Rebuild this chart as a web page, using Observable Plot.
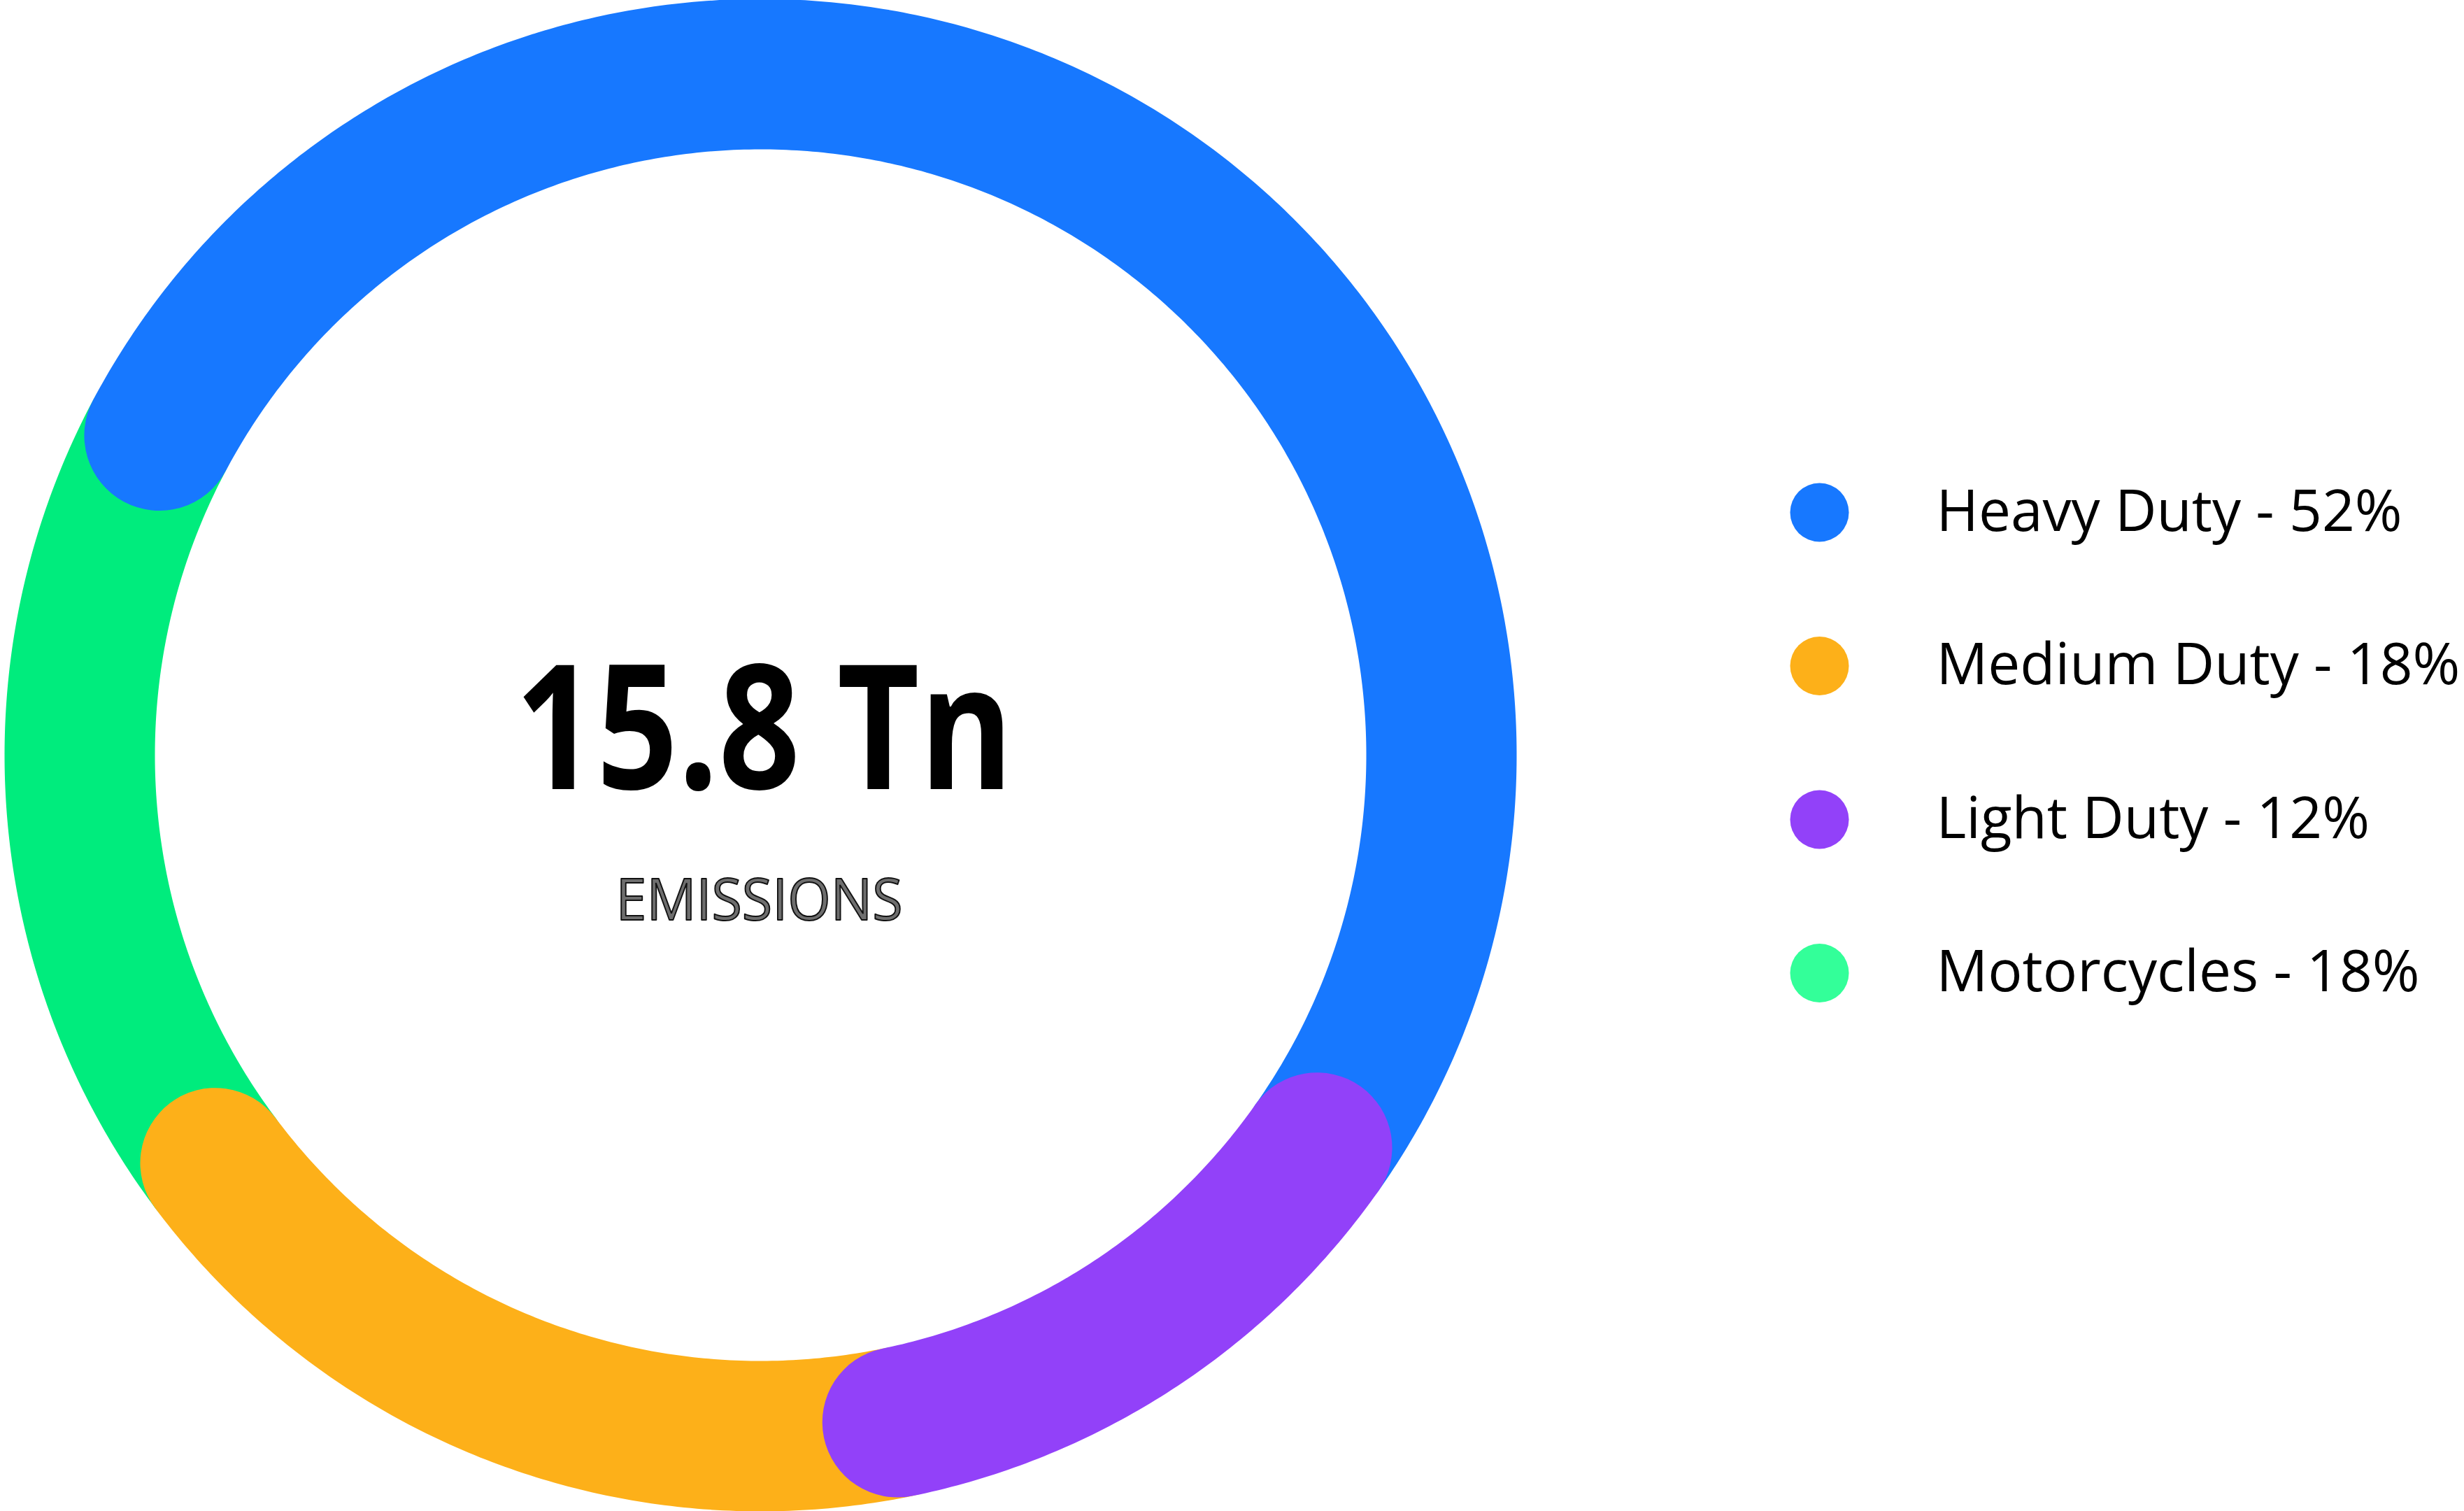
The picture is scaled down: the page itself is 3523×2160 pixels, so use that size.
<!DOCTYPE html>
<html>
<head>
<meta charset="utf-8">
<script src="https://cdn.jsdelivr.net/npm/d3@7"></script>
<script src="https://cdn.jsdelivr.net/npm/@observablehq/plot@0.6"></script>
<style>
  html, body { margin: 0; padding: 0; background: #fff; }
  #chart svg { display: block; }
</style>
</head>
<body>
<div id="chart"></div>
<script>
// ---- data ----
const categories = ["Heavy Duty", "Medium Duty", "Light Duty", "Motorcycles"];
const shares = [52, 18, 12, 18];
const ringColors = ["#1778FF", "#FDB019", "#9241F9", "#00EC7D"];
const legendColors = ["#1778FF", "#FDB019", "#9241F9", "#33FF99"];
const ringOrder = ["Heavy Duty", "Light Duty", "Medium Duty", "Motorcycles"];   // clockwise
const drawOrder = ["Motorcycles", "Medium Duty", "Heavy Duty", "Light Duty"];   // bottom to top
const totalLabel = "15.8 Tn";
const subLabel = "EMISSIONS";

// ---- layout ----
const W = 3523, H = 2160;
const CX = 1087, CY = 1079, R = 973.5, BAND = 215, START = -62;
const LEG_DOT_X = 2601, LEG_TEXT_X = 2768, LEG_Y0 = 732, LEG_STEP = 219.5;

let acc = START;
const segs = ringOrder.map(name => {
  const i = categories.indexOf(name);
  const a0 = acc, a1 = acc + shares[i] / 100 * 360;
  acc = a1;
  return {name, a0, a1, color: ringColors[i]};
});
function arcPoints(s) {
  const pts = [];
  const n = Math.ceil((s.a1 - s.a0) / 0.5);
  for (let k = 0; k <= n; k++) {
    const a = (s.a0 + (s.a1 - s.a0) * k / n) * Math.PI / 180;
    pts.push({x: CX + R * Math.sin(a), y: CY - R * Math.cos(a)});
  }
  return pts;
}

const ringMarks = drawOrder.map(name => {
  const s = segs.find(d => d.name === name);
  return Plot.line(arcPoints(s), {
    x: "x", y: "y", stroke: s.color, strokeWidth: BAND,
    strokeLinecap: "round", strokeLinejoin: "round", curve: "linear"
  });
});

const legend = categories.map((c, i) => ({label: `${c} - ${shares[i]}%`, color: legendColors[i], i}));

const chart = Plot.plot({
  width: W, height: H, margin: 0,
  x: {domain: [0, W], range: [0, W], axis: null},
  y: {domain: [0, H], range: [0, H], axis: null},
  color: {type: "identity"},
  style: {background: "#fff"},
  marks: [
    ...ringMarks,
    Plot.text([totalLabel], {
      x: () => CX + 5, y: () => 1127 - 0.32 * 248, text: d => d,
      fontFamily: "Open Sans", fontSize: 248, fontWeight: 700, fill: "#000",
      textAnchor: "middle", lineAnchor: "middle"
    }),
    Plot.text([subLabel], {
      x: () => CX - 2, y: () => 1314 - 0.32 * 82, text: d => d,
      fontFamily: "Open Sans", fontSize: 82, fontWeight: 400, fill: "#6E6E6E",
      stroke: "#111", strokeWidth: 2, paintOrder: "normal",
      textAnchor: "middle", lineAnchor: "middle"
    }),
    Plot.dot(legend, {x: () => LEG_DOT_X, y: d => LEG_Y0 + d.i * LEG_STEP, r: 42, fill: "color", stroke: null}),
    Plot.text(legend, {
      x: () => LEG_TEXT_X, y: d => LEG_Y0 + d.i * LEG_STEP, text: "label",
      fontFamily: "Open Sans", fontSize: 82, fill: "#000",
      textAnchor: "start", lineAnchor: "middle"
    })
  ]
});
document.getElementById("chart").appendChild(chart);

// condense center labels to match the narrow original typeface
const fitWidths = {[totalLabel]: 712, [subLabel]: 410};
chart.querySelectorAll("text").forEach(t => {
  const w = fitWidths[t.textContent];
  if (w) {
    t.setAttribute("textLength", w);
    t.setAttribute("lengthAdjust", "spacingAndGlyphs");
  }
});
</script>
</body>
</html>
